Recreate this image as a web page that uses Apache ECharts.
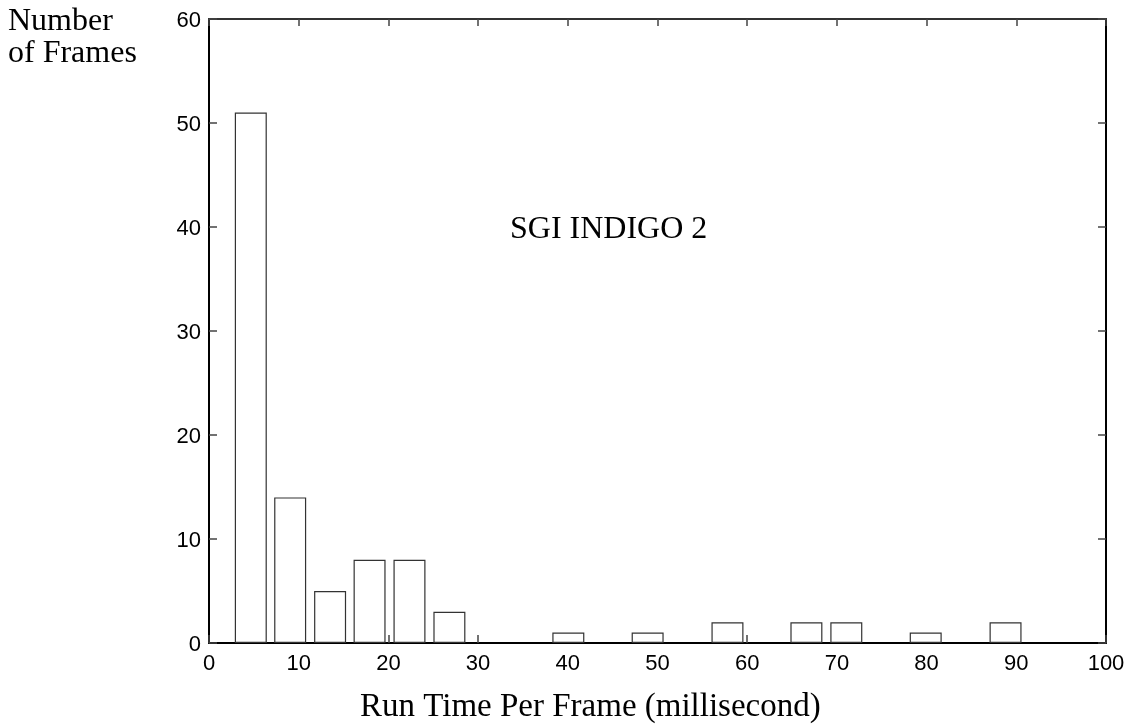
<!DOCTYPE html>
<html>
<head>
<meta charset="utf-8">
<script src="https://cdn.jsdelivr.net/npm/echarts@6/dist/echarts.min.js"></script>
<style>
html,body{margin:0;padding:0;background:#fff;}
#chart{width:1131px;height:724px;}
</style>
</head>
<body>
<div id="chart"></div>
<script>
// Data
var binCenters = [4.66, 9.05, 13.5, 17.9, 22.35, 26.8, 40.06, 48.9, 57.8, 66.6, 71.05, 79.9, 88.8];
var frameCounts = [51, 14, 5, 8, 8, 3, 1, 1, 2, 2, 2, 1, 2];
var xTickValues = [0, 10, 20, 30, 40, 50, 60, 70, 80, 90, 100];
var yTickValues = [0, 10, 20, 30, 40, 50, 60];
var yAxisTitle = ['Number', 'of Frames'];
var xAxisTitle = 'Run Time Per Frame (millisecond)';
var annotation = 'SGI INDIGO 2';

var seriesData = binCenters.map(function (c, i) { return [c, frameCounts[i]]; });

var chart = echarts.init(document.getElementById('chart'), null, {renderer: 'canvas'});
var labelFont = {fontFamily: 'Liberation Sans', fontSize: 22, color: '#000'};
var serif = 'Liberation Serif';

chart.setOption({
  animation: false,
  backgroundColor: '#fff',
  grid: {left: 209, right: 25, top: 19, bottom: 81},
  xAxis: [{
    type: 'value', position: 'bottom',
    min: xTickValues[0], max: xTickValues[xTickValues.length - 1], interval: 10,
    axisLine: {show: true, onZero: false, lineStyle: {color: '#000', width: 2}},
    axisTick: {show: true, inside: true, length: 8, lineStyle: {color: '#444', width: 1.5}},
    axisLabel: Object.assign({margin: 10}, labelFont),
    splitLine: {show: false}
  }, {
    type: 'value', position: 'top',
    min: xTickValues[0], max: xTickValues[xTickValues.length - 1], interval: 10,
    axisLine: {show: true, onZero: false, lineStyle: {color: '#333', width: 2}},
    axisTick: {show: true, inside: true, length: 7, lineStyle: {color: '#444', width: 1.5}},
    axisLabel: {show: false},
    splitLine: {show: false}
  }],
  yAxis: [{
    type: 'value', position: 'left',
    min: yTickValues[0], max: yTickValues[yTickValues.length - 1], interval: 10,
    axisLine: {show: true, onZero: false, lineStyle: {color: '#000', width: 2}},
    axisTick: {show: true, inside: true, length: 8, lineStyle: {color: '#444', width: 1.5}},
    axisLabel: Object.assign({margin: 8, lineHeight: 22, height: 22, verticalAlign: 'top', padding: [-9, 0, 0, 0]}, labelFont),
    splitLine: {show: false}
  }, {
    type: 'value', position: 'right',
    min: yTickValues[0], max: yTickValues[yTickValues.length - 1], interval: 10,
    axisLine: {show: true, onZero: false, lineStyle: {color: '#000', width: 2}},
    axisTick: {show: true, inside: true, length: 8, lineStyle: {color: '#444', width: 1.5}},
    axisLabel: {show: false},
    splitLine: {show: false}
  }],
  series: [{
    type: 'bar',
    xAxisIndex: 0, yAxisIndex: 0,
    data: seriesData,
    barWidth: 32,
    itemStyle: {color: '#fff', borderColor: '#333', borderWidth: 1.2},
    z: 1
  }],
  graphic: [
    {type: 'text', left: 8, top: 6, style: {text: yAxisTitle[0], font: '32px "' + serif + '"', fill: '#000'}},
    {type: 'text', left: 8, top: 38, style: {text: yAxisTitle[1], font: '32px "' + serif + '"', fill: '#000'}},
    {type: 'text', left: 510, top: 214, style: {text: annotation, font: '32px "' + serif + '"', fill: '#000'}},
    {type: 'text', left: 360, top: 691, style: {text: xAxisTitle, font: '33px "' + serif + '"', fill: '#000'}}
  ]
});
</script>
</body>
</html>
